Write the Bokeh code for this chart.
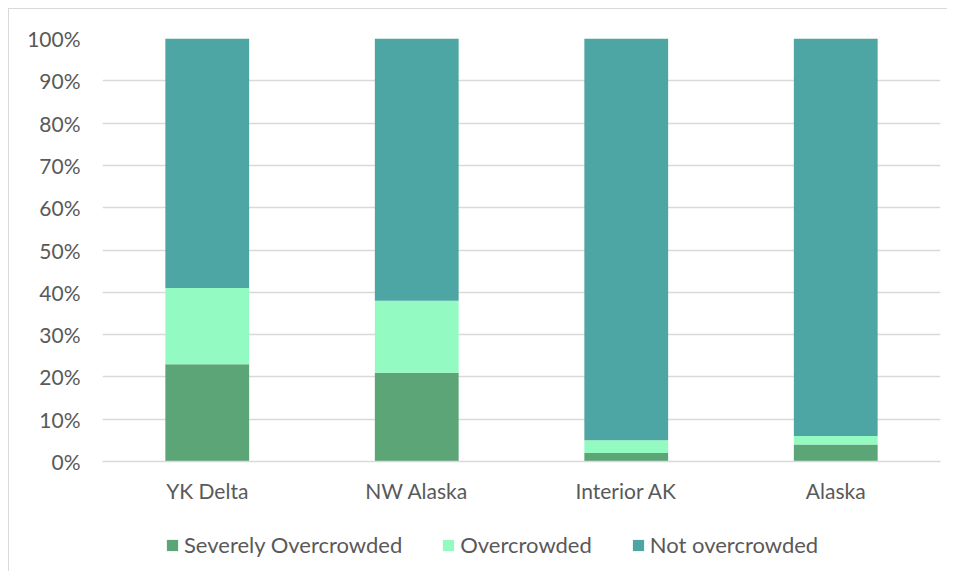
from bokeh.plotting import figure
from bokeh.layouts import column
from bokeh.models import ColumnDataSource, FactorRange, Range1d, Legend, LegendItem, FixedTicker, CustomJSTickFormatter
from bokeh.embed import file_html
from bokeh.resources import INLINE

regions = ["YK Delta", "NW Alaska", "Interior AK", "Alaska"]
severely = [23, 21, 2, 4]
overcrowded = [18, 17, 3, 2]
not_over = [59, 62, 95, 94]
series = ["Severely Overcrowded", "Overcrowded", "Not overcrowded"]
colors = ["#5BA577", "#93FBC2", "#4DA6A4"]
y_ticks = [0, 10, 20, 30, 40, 50, 60, 70, 80, 90, 100]

FONT = "Lato"
TXT = "#595959"
GRID = "#D9D9D9"

src = ColumnDataSource(dict(region=regions, sev=severely, over=overcrowded, nov=not_over))
stack_cols = ["sev", "over", "nov"]

p = figure(x_range=FactorRange(*regions, range_padding=0), y_range=Range1d(0, 100),
           width=938, height=496, output_backend="svg", toolbar_location=None,
           min_border_left=93, min_border_right=7, min_border_top=29, min_border_bottom=43)

renderers = p.vbar_stack(stack_cols, x="region", width=0.4, color=colors,
                         line_color=None, source=src)

p.outline_line_color = None
p.xgrid.grid_line_color = None
p.ygrid.grid_line_color = GRID
p.ygrid.grid_line_width = 1.5

p.yaxis.ticker = FixedTicker(ticks=y_ticks)
p.yaxis.formatter = CustomJSTickFormatter(code="return tick + '%';")
p.yaxis.axis_line_color = None
p.yaxis.major_tick_line_color = None
p.yaxis.minor_tick_line_color = None
p.yaxis.major_tick_out = 0
p.yaxis.major_label_standoff = 22
p.yaxis.major_label_text_font = FONT
p.yaxis.major_label_text_font_size = "21px"
p.yaxis.major_label_text_color = TXT

p.xaxis.axis_line_color = GRID
p.xaxis.axis_line_width = 1.5
p.xaxis.major_tick_line_color = None
p.xaxis.minor_tick_line_color = None
p.xaxis.major_tick_out = 0
p.xaxis.major_label_standoff = 16
p.xaxis.major_label_text_font = FONT
p.xaxis.major_label_text_font_size = "21px"
p.xaxis.major_label_text_color = TXT

# legend strip (bars drawn out of view; only the legend shows)
lg = figure(x_range=FactorRange(*regions, range_padding=0), y_range=Range1d(200, 300),
            width=938, height=66, output_backend="svg", toolbar_location=None,
            x_axis_type=None, y_axis_type=None,
            min_border_left=0, min_border_right=0, min_border_top=0, min_border_bottom=0)
lg.outline_line_color = None
lg.xgrid.grid_line_color = None
lg.ygrid.grid_line_color = None
lr = lg.vbar_stack(stack_cols, x="region", width=0.4, color=colors, line_color=None, source=src)

legend = Legend(items=[LegendItem(label=s, renderers=[r]) for s, r in zip(series, lr)],
                orientation="horizontal", location=(63, 13))
legend.border_line_color = None
legend.background_fill_alpha = 0
legend.label_text_font = FONT
legend.label_text_font_size = "22px"
legend.label_text_color = TXT
legend.glyph_width = 14
legend.glyph_height = 14
legend.label_standoff = 5
legend.spacing = 39
legend.padding = 0
legend.margin = 0
lg.add_layout(legend, "center")

layout = column(p, lg, spacing=0,
                styles={"margin-left": "8px", "margin-top": "8px",
                        "border-left": "1px solid #D9D9D9", "border-top": "1px solid #D9D9D9"})

open("out.html", "w").write(file_html(layout, INLINE))
